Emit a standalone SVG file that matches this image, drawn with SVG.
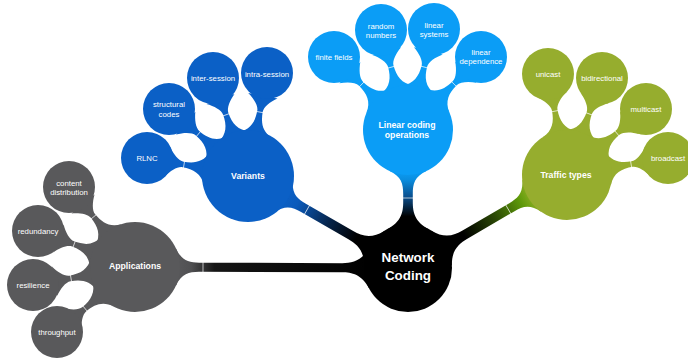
<svg xmlns="http://www.w3.org/2000/svg" width="688" height="358" viewBox="0 0 688 358">
<style>
.apps{fill:#59595b}
.var{fill:#0b60c6}
.lin{fill:#0b9df6}
.trf{fill:#96ad2e}
.root{fill:#000}
.tick{stroke:#fff;stroke-width:0.8;stroke-opacity:0.85}
text{font-family:"Liberation Sans",Arial,Helvetica,sans-serif;fill:#fff;text-anchor:middle}
.t1{font-size:7.8px}
.t2{font-size:8.7px;font-weight:bold}
.t0{font-size:13.4px;font-weight:bold}
</style>
<defs>
<linearGradient id="gApps" x1="0" y1="0" x2="1" y2="0">
<stop offset="0" stop-color="#59595b"/><stop offset="0.08" stop-color="#505052"/><stop offset="0.2" stop-color="#151515"/><stop offset="1" stop-color="#000"/>
</linearGradient>
<linearGradient id="gVar" x1="0" y1="0" x2="1" y2="0">
<stop offset="0" stop-color="#0b60c6"/><stop offset="0.15" stop-color="#0a5abb"/><stop offset="0.5" stop-color="#06244a"/><stop offset="0.8" stop-color="#000"/>
</linearGradient>
<linearGradient id="gLin" x1="0" y1="0" x2="1" y2="0">
<stop offset="0" stop-color="#0b9df6"/><stop offset="0.15" stop-color="#0a8ee0"/><stop offset="0.45" stop-color="#0b4e8c"/><stop offset="0.78" stop-color="#000"/>
</linearGradient>
<linearGradient id="gTrf" x1="0" y1="0" x2="1" y2="0">
<stop offset="0" stop-color="#8aae22"/><stop offset="0.12" stop-color="#5f9a0a"/><stop offset="0.4" stop-color="#2c4a05"/><stop offset="0.75" stop-color="#000"/>
</linearGradient>
<g id="neck">
<path d="M41.7,16.9 C46.2,5.8 55,2.8 66,2.8 C71,2.8 77.1,8.3 81.7,14.9 L81.7,-14.9 C77.1,-8.3 71,-2.8 66,-2.8 C55,-2.8 46.2,-5.8 41.7,-16.9 Z"/>
<line class="tick" x1="65" y1="-3.6" x2="65" y2="3.6"/>
</g>
</defs>
<rect width="688" height="358" fill="#fff"/>
<g id="connectors">
<g transform="translate(135,267) rotate(0.21)"><path fill="url(#gApps)" d="M40.8,19 C46.7,6.3 54,4.8 64,4.6 L207,4.6 C217,4.6 226.7,6.6 234.2,20.7 L234.2,-20.7 C226.7,-6.6 217,-4.6 207,-4.6 L64,-4.6 C54,-4.8 46.7,-6.3 40.8,-19 Z"/><line class="tick" x1="68" y1="-5.6" x2="68" y2="5.6"/></g>
<g transform="translate(248,176) rotate(29.9)"><path fill="url(#gVar)" d="M40.8,19 C46.7,6.3 54,4.8 64,4.8 L118.6,4.8 C128.6,4.8 138.3,6.6 145.8,20.7 L145.8,-20.7 C138.3,-6.6 128.6,-4.8 118.6,-4.8 L64,-4.8 C54,-4.8 46.7,-6.3 40.8,-19 Z"/><line class="tick" x1="68" y1="-5.8" x2="68" y2="5.8"/></g>
<g transform="translate(408,130) rotate(90)"><path fill="url(#gLin)" d="M40.8,19 C46.7,6.3 54,4.8 64,4.8 L72,4.8 C82,4.8 91.7,6.6 99.2,20.7 L99.2,-20.7 C91.7,-6.6 82,-4.8 72,-4.8 L64,-4.8 C54,-4.8 46.7,-6.3 40.8,-19 Z"/><line class="tick" x1="68" y1="-5.8" x2="68" y2="5.8"/></g>
<g transform="translate(567,175) rotate(149.7)"><path fill="url(#gTrf)" d="M40.8,19 C46.7,6.3 54,4.8 64,4.8 L118.2,4.8 C128.2,4.8 137.9,6.6 145.4,20.7 L145.4,-20.7 C137.9,-6.6 128.2,-4.8 118.2,-4.8 L64,-4.8 C54,-4.8 46.7,-6.3 40.8,-19 Z"/><line class="tick" x1="68" y1="-5.8" x2="68" y2="5.8"/></g>
<use href="#neck" class="apps" transform="translate(135,267) rotate(-129.5)"/>
<use href="#neck" class="apps" transform="translate(135,267) rotate(-159.6)"/>
<use href="#neck" class="apps" transform="translate(135,267) rotate(170)"/>
<use href="#neck" class="apps" transform="translate(135,267) rotate(140.2)"/>
<use href="#neck" class="var" transform="translate(248,176) rotate(-169.9)"/>
<use href="#neck" class="var" transform="translate(248,176) rotate(-139.7)"/>
<use href="#neck" class="var" transform="translate(248,176) rotate(-109.7)"/>
<use href="#neck" class="var" transform="translate(248,176) rotate(-79.5)"/>
<use href="#neck" class="lin" transform="translate(408,130) rotate(-135.4)"/>
<use href="#neck" class="lin" transform="translate(408,130) rotate(-105.1)"/>
<use href="#neck" class="lin" transform="translate(408,130) rotate(-75.6)"/>
<use href="#neck" class="lin" transform="translate(408,130) rotate(-45)"/>
<use href="#neck" class="trf" transform="translate(567,175) rotate(-100.7)"/>
<use href="#neck" class="trf" transform="translate(567,175) rotate(-70.2)"/>
<use href="#neck" class="trf" transform="translate(567,175) rotate(-39.9)"/>
<use href="#neck" class="trf" transform="translate(567,175) rotate(-9.6)"/>
</g>
<g id="network-coding"><circle class="root" cx="408" cy="268" r="44"/><text class="t0" x="408" y="262">Network</text><text class="t0" x="408" y="280">Coding</text></g>
<g id="applications"><circle class="apps" cx="135" cy="267" r="45"/><text class="t2" x="135" y="269">Applications</text></g>
<g id="content-distribution"><circle class="apps" cx="69" cy="187" r="26"/><text class="t1" x="69" y="186">content</text><text class="t1" x="69" y="195">distribution</text></g>
<g id="redundancy"><circle class="apps" cx="38" cy="231" r="26"/><text class="t1" x="38" y="234">redundancy</text></g>
<g id="resilience"><circle class="apps" cx="33" cy="285" r="26"/><text class="t1" x="33" y="288">resilience</text></g>
<g id="throughput"><circle class="apps" cx="57" cy="332" r="26"/><text class="t1" x="57" y="334.5">throughput</text></g>
<g id="variants"><circle class="var" cx="248" cy="176" r="46"/><text class="t2" x="248" y="179">Variants</text></g>
<g id="rlnc"><circle class="var" cx="147" cy="158" r="26"/><text class="t1" x="147" y="161">RLNC</text></g>
<g id="structural-codes"><circle class="var" cx="169" cy="109" r="26"/><text class="t1" x="169" y="107">structural</text><text class="t1" x="169" y="117">codes</text></g>
<g id="inter-session"><circle class="var" cx="213" cy="78" r="26"/><text class="t1" x="213" y="81">inter-session</text></g>
<g id="intra-session"><circle class="var" cx="267" cy="73" r="26"/><text class="t1" x="267" y="77">intra-session</text></g>
<g id="linear-coding"><circle class="lin" cx="408" cy="130" r="45"/><text class="t2" x="407" y="128.2">Linear coding</text><text class="t2" x="407" y="138.2">operations</text></g>
<g id="finite-fields"><circle class="lin" cx="334" cy="57" r="26"/><text class="t1" x="334" y="60">finite fields</text></g>
<g id="random-numbers"><circle class="lin" cx="381" cy="30" r="26"/><text class="t1" x="381" y="29">random</text><text class="t1" x="381" y="38">numbers</text></g>
<g id="linear-systems"><circle class="lin" cx="434" cy="29" r="26"/><text class="t1" x="434" y="28">linear</text><text class="t1" x="434" y="37">systems</text></g>
<g id="linear-dependence"><circle class="lin" cx="481" cy="57" r="26"/><text class="t1" x="481" y="55">linear</text><text class="t1" x="481" y="64">dependence</text></g>
<g id="traffic-types"><circle class="trf" cx="567" cy="175" r="45"/><text class="t2" x="566" y="178">Traffic types</text></g>
<g id="unicast"><circle class="trf" cx="548" cy="74" r="26"/><text class="t1" x="548" y="77">unicast</text></g>
<g id="bidirectional"><circle class="trf" cx="602" cy="78" r="26"/><text class="t1" x="602" y="81">bidirectional</text></g>
<g id="multicast"><circle class="trf" cx="646" cy="109" r="26"/><text class="t1" x="646" y="112">multicast</text></g>
<g id="broadcast"><circle class="trf" cx="668" cy="158" r="26"/><text class="t1" x="668" y="161">broadcast</text></g>
</svg>
